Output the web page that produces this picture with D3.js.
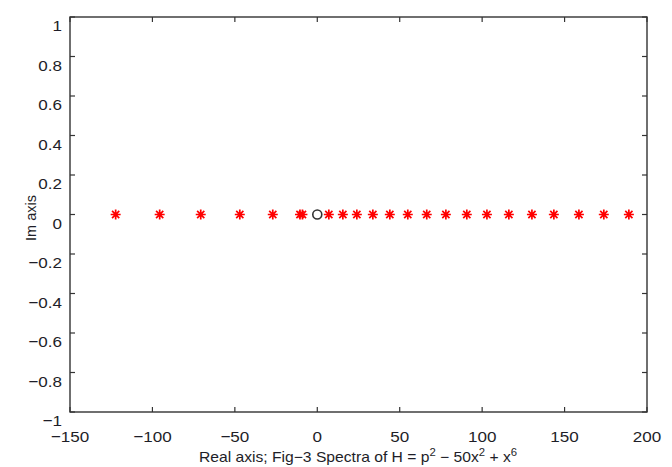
<!DOCTYPE html>
<html><head><meta charset="utf-8">
<script src="https://cdn.jsdelivr.net/npm/d3@7"></script>
<style>body{margin:0;background:#fff}svg{display:block}text{font-family:"Liberation Sans",Arial,sans-serif;fill:#1e1e28}</style>
</head><body><svg id="c" width="672" height="467"></svg>
<script>
const eigenReal = [-122.3,-95.6,-70.7,-47.0,-27.0,-10.5,-9.0,7.0,15.5,24.0,33.7,44.0,54.9,66.4,78.0,90.7,102.9,116.2,130.2,143.5,158.7,173.8,189.0];
const eigenImag = eigenReal.map(()=>0);
const originReal = [0];
const originImag = [0];
const xTicks = [-150,-100,-50,0,50,100,150,200];
const yTicks = [-1,-0.8,-0.6,-0.4,-0.2,0,0.2,0.4,0.6,0.8,1];

const svg = d3.select("#c");
const L=70, R=647, T=17, B=412;
const x = d3.scaleLinear().domain([-150,200]).range([L,R]);
const y = d3.scaleLinear().domain([-1,1]).range([B,T]);
const fmt = v => (v<0?"\u2212":"") + String(Math.abs(Math.round(v*10)/10));
const tk=5, fs=15.5, sx=1.1;
const g = svg.append("g");
xTicks.forEach(v=>{
  g.append("line").attr("x1",x(v)).attr("x2",x(v)).attr("y1",B).attr("y2",B-tk).attr("stroke","#333").attr("stroke-width",1.2);
  g.append("line").attr("x1",x(v)).attr("x2",x(v)).attr("y1",T).attr("y2",T+tk).attr("stroke","#333").attr("stroke-width",1.2);
  g.append("text").attr("transform",`translate(${x(v)},${B+30}) scale(${sx},1)`).attr("text-anchor","middle").attr("font-size",fs).text(fmt(v));
});
yTicks.forEach(v=>{
  g.append("line").attr("x1",L).attr("x2",L+tk).attr("y1",y(v)).attr("y2",y(v)).attr("stroke","#333").attr("stroke-width",1.2);
  g.append("line").attr("x1",R).attr("x2",R-tk).attr("y1",y(v)).attr("y2",y(v)).attr("stroke","#333").attr("stroke-width",1.2);
  g.append("text").attr("transform",`translate(${L-8},${y(v)+14}) scale(${sx},1)`).attr("text-anchor","end").attr("font-size",fs).text(fmt(v));
});
g.append("rect").attr("x",L).attr("y",T).attr("width",R-L).attr("height",B-T).attr("fill","none").attr("stroke","#333").attr("stroke-width",1.4);

const s=5, d=s*0.72;
const starPath = `M${-s},0L${s},0M0,${-s}L0,${s}M${-d},${-d}L${d},${d}M${-d},${d}L${d},${-d}`;
svg.append("g").selectAll("path").data(eigenReal.map((r,i)=>[r,eigenImag[i]])).join("path")
  .attr("transform",p=>`translate(${x(p[0])},${y(p[1])})`)
  .attr("d",starPath).attr("stroke","#ff0000").attr("stroke-width",1.7).attr("fill","none");
svg.append("g").selectAll("circle").data(originReal.map((r,i)=>[r,originImag[i]])).join("circle")
  .attr("cx",p=>x(p[0])).attr("cy",p=>y(p[1])).attr("r",4.5)
  .attr("fill","none").attr("stroke","#333").attr("stroke-width",1.6);

const xl = svg.append("text").attr("transform","translate(358,462) scale(1.08,1)").attr("text-anchor","middle").attr("font-size",14.5);
xl.append("tspan").text("Real axis; Fig\u22123 Spectra of H = p");
xl.append("tspan").attr("dy",-6).attr("font-size",10.5).text("2");
xl.append("tspan").attr("dy",6).text(" \u2212 50x");
xl.append("tspan").attr("dy",-6).attr("font-size",10.5).text("2");
xl.append("tspan").attr("dy",6).text(" + x");
xl.append("tspan").attr("dy",-6).attr("font-size",10.5).text("6");
svg.append("text").attr("transform","translate(36,218) rotate(-90)").attr("text-anchor","middle").attr("font-size",14.5).text("Im axis");
</script></body></html>
